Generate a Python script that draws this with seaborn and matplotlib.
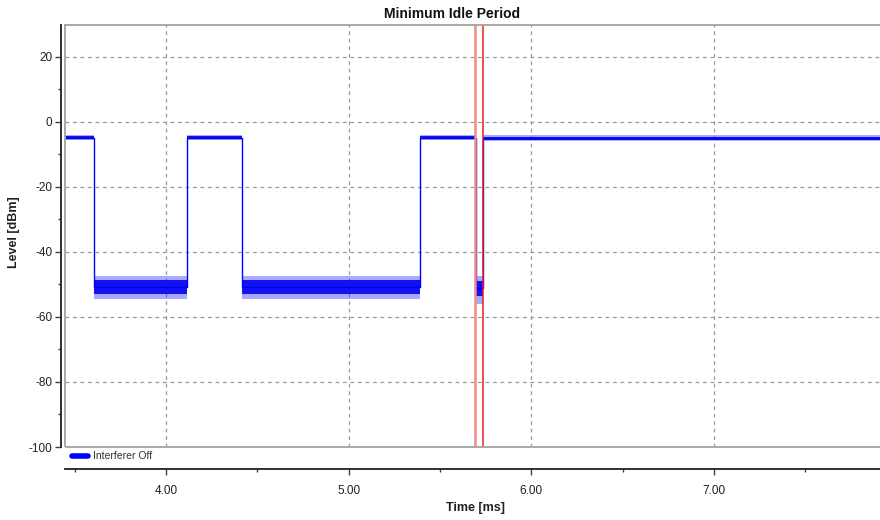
import matplotlib
matplotlib.use("Agg")
import matplotlib.pyplot as plt
from matplotlib.patches import Rectangle
from matplotlib.ticker import MultipleLocator, FormatStrFormatter
import seaborn as sns
import pandas as pd

# ---- data ----
seg_start = [3.447, 3.606, 4.115, 4.416, 5.390, 5.697, 5.737]
seg_end   = [3.606, 4.115, 4.416, 5.390, 5.697, 5.737, 7.910]
seg_level = [-4.9, -50.8, -4.9, -50.8, -4.9, -51.0, -5.1]
# outer (spiky) noise envelope
seg_low   = [-5.7, -54.5, -5.7, -54.5, -5.7, -56.0, -6.0]
seg_high  = [-3.9, -47.5, -3.9, -47.5, -3.9, -47.5, -4.0]
# dense inner noise band
core_low  = [-5.4, -53.0, -5.4, -53.0, -5.4, -53.5, -5.6]
core_high = [-4.4, -48.6, -4.4, -48.6, -4.4, -49.0, -4.5]
marker_t  = [5.694, 5.736]
marker_colors = ["#f28b82", "#e02020"]
series_name = "Interferer Off"
title = "Minimum Idle Period"
x_label = "Time [ms]"
y_label = "Level [dBm]"

sns.set_style("white")
plt.rcParams["font.family"] = ["Liberation Sans", "DejaVu Sans"]
plt.rcParams["axes.unicode_minus"] = False

fig = plt.figure(figsize=(8.8, 5.2), dpi=100)
ax = fig.add_axes([65/880, 1-447/520, 815/880, 422/520])

# step trace
xs, ys = [], []
for s, e, l in zip(seg_start, seg_end, seg_level):
    xs += [s, e]
    ys += [l, l]
df = pd.DataFrame({"t": xs, "lvl": ys, "name": series_name})
sns.lineplot(data=df, x="t", y="lvl", hue="name", palette=["#0000ff"],
             ax=ax, linewidth=1.0, sort=False, estimator=None, legend=True, zorder=2)

# noise envelope per segment
for s, e, lo, hi in zip(seg_start, seg_end, seg_low, seg_high):
    ax.fill_between([s, e], [lo, lo], [hi, hi], color="#2828ff", alpha=0.4,
                    linewidth=0, zorder=3)
for s, e, lo, hi in zip(seg_start, seg_end, core_low, core_high):
    ax.fill_between([s, e], [lo, lo], [hi, hi], color="#0000f0", alpha=0.9,
                    linewidth=0, zorder=3)

for t, c in zip(marker_t, marker_colors):
    ax.axvline(t, color=c, lw=1.8 if c == marker_colors[0] else 1.1, zorder=5)

ax.set_xlim(3.447, 7.91)
ax.set_ylim(-100, 29.8)

ax.xaxis.set_major_locator(MultipleLocator(1.0))
ax.xaxis.set_minor_locator(MultipleLocator(0.5))
ax.xaxis.set_major_formatter(FormatStrFormatter("%.2f"))
ax.yaxis.set_major_locator(MultipleLocator(20))
ax.yaxis.set_minor_locator(MultipleLocator(10))

ax.grid(True, which="major", color="#999999", linestyle=(0, (3, 3)), linewidth=0.9)

for sp in ["top", "right"]:
    ax.spines[sp].set_visible(False)
ax.spines["left"].set_position(("outward", 3))     # points (~4 px)
ax.spines["bottom"].set_position(("outward", 16))  # points (~22 px)
for sp in ["left", "bottom"]:
    ax.spines[sp].set_color("#202020")
    ax.spines[sp].set_linewidth(1.3)

ax.add_patch(Rectangle((0, 0), 1.05, 1, transform=ax.transAxes, fill=False,
                       edgecolor="#a8a8a8", linewidth=1.4, clip_on=False, zorder=6))

ax.tick_params(axis="both", which="both", bottom=True, left=True, top=False, right=False)
ax.tick_params(axis="both", which="major", direction="out", length=4, width=1,
               color="#404040", labelsize=8.5, labelcolor="#202020", pad=2)
ax.tick_params(axis="both", which="minor", direction="out", length=2.5, width=1,
               color="#404040")
ax.tick_params(axis="x", which="major", length=4, pad=7)

ax.set_xlabel("")
ax.set_ylabel("")
fig.text(475/880, 1-508/520, x_label, ha="center", va="center",
         fontsize=9, fontweight="bold", color="#202020")
fig.text(14/880, 1-232/520, y_label, ha="center", va="center", rotation=90,
         fontsize=9, fontweight="bold", color="#202020")

leg = ax.legend(loc="upper left", bbox_to_anchor=(0.004, 0.0), frameon=False,
                fontsize=7.5, handlelength=1.5, borderaxespad=0.2, handletextpad=0.5,
                borderpad=0.2)
for h in leg.get_lines():
    h.set_linewidth(4)
for txt in leg.get_texts():
    txt.set_color("#303030")

fig.text(452/880, 1-14/520, title, ha="center", va="center",
         fontsize=10, fontweight="bold", color="#101010")

fig.savefig("out.png", dpi=100)
